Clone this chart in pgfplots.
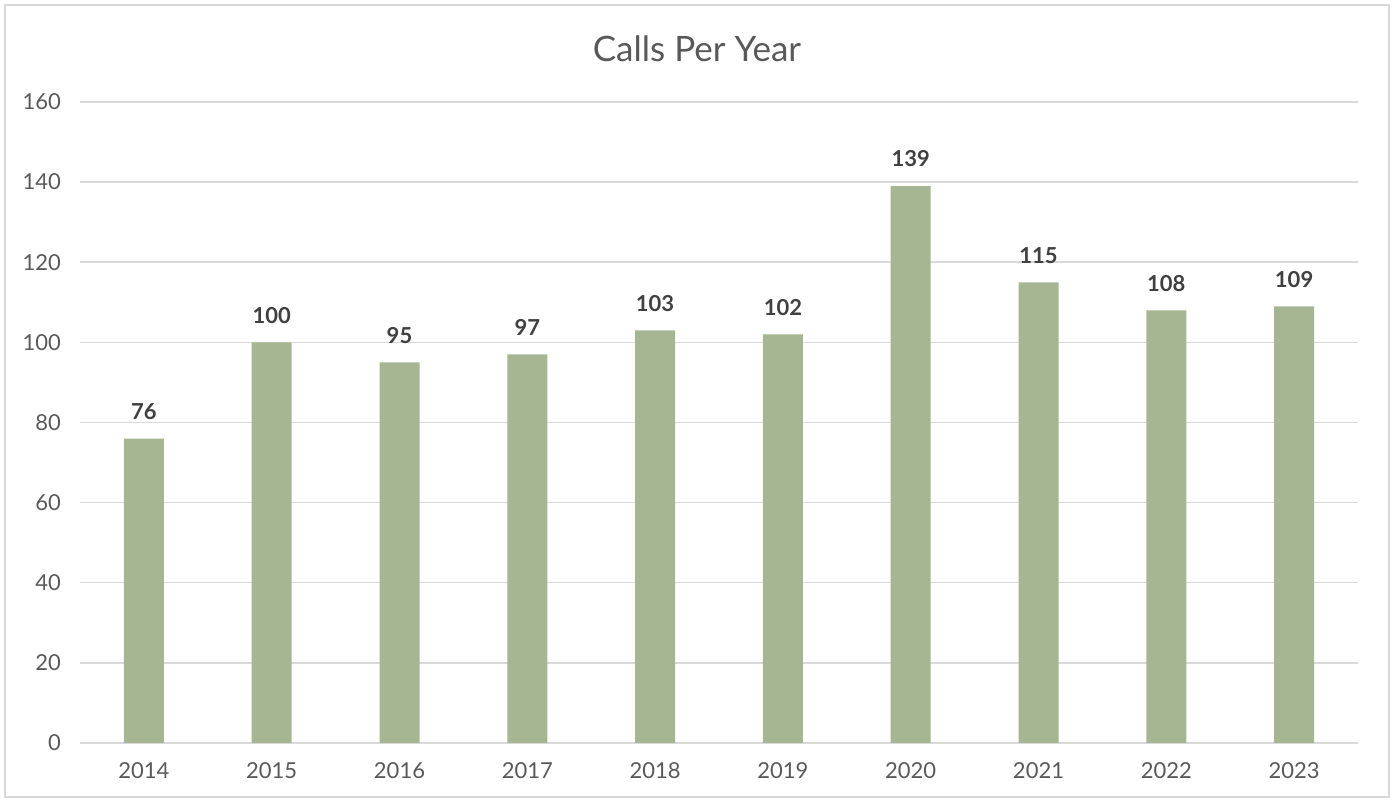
\documentclass[border=0pt]{standalone}
\usepackage{pgfplots}
\pgfplotsset{compat=1.18}
\usepackage{fontspec}
\setmainfont{Lato}
\definecolor{barclr}{HTML}{A6B592}
\definecolor{gridclr}{HTML}{D9D9D9}
\definecolor{txtclr}{HTML}{595959}
\definecolor{lblclr}{HTML}{404040}
\begin{document}
\begin{tikzpicture}
  % page frame, 1px = 0.5pt
  \path[use as bounding box] (0,0) rectangle (697pt,400.5pt);
  \draw[gridclr, line width=0.75pt] (2.5pt,2pt) rectangle (694.5pt,398pt);
  \node[txtclr, font=\fontsize{17.5}{20}\selectfont] at (348.5pt,376pt) {Calls Per Year};
  \begin{axis}[
    at={(40pt,29pt)}, anchor=south west,
    scale only axis,
    width=639pt, height=320.5pt,
    ybar, bar width=20pt,
    xmin=-0.5, xmax=9.5,
    ymin=0, ymax=160,
    xtick=data,
    xticklabels={2014,2015,2016,2017,2018,2019,2020,2021,2022,2023},
    ytick={0,20,...,160},
    axis line style={draw=none},
    ymajorgrids,
    grid style={gridclr, line width=0.75pt},
    major tick length=0pt,
    tick label style={txtclr, font=\fontsize{11}{13}\selectfont},
    /pgf/number format/assume math mode=true,
    yticklabel style={xshift=-6pt},
    xticklabel style={yshift=-6.5pt},
    nodes near coords,
    nodes near coords style={lblclr, font=\bfseries\fontsize{11}{13}\selectfont, yshift=6pt},
    clip=false,
  ]
    \addplot[fill=barclr, draw=none] coordinates {
      (0,76) (1,100) (2,95) (3,97) (4,103)
      (5,102) (6,139) (7,115) (8,108) (9,109)
    };
  \end{axis}
\end{tikzpicture}
\end{document}
